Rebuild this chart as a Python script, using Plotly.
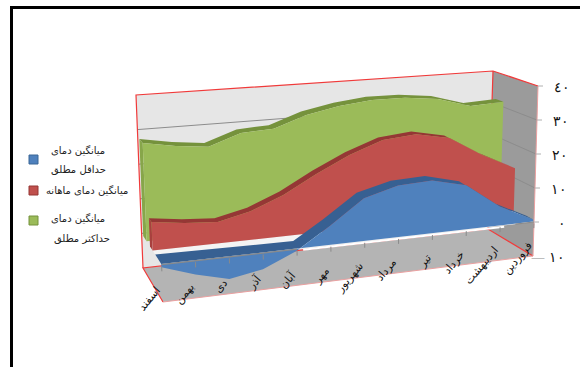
import plotly.graph_objects as go

# Persian months along the category axis, left to right
months = ["اسفند", "بهمن", "دی", "آذر", "آبان", "مهر", "شهریور", "مرداد", "تیر", "خرداد", "اردیبهشت", "فروردین"]

# Temperature series in degrees C, one value per month
abs_min = [-0.9, -3.9, -6.2, -4.6, -0.7, 5.3, 12.0, 14.6, 15.1, 12.7, 5.5, 0.6]
monthly_mean = [7.9, 6.7, 6.0, 8.1, 11.8, 16.9, 21.5, 25.0, 25.9, 23.9, 17.9, 13.0]
abs_max = [27.8, 26.2, 25.2, 28.4, 28.9, 32.2, 34.1, 35.2, 35.1, 34.0, 31.1, 31.6]

value_ticks = [40, 30, 20, 10, 0, -10]
value_labels = ["٤٠", "٣٠", "٢٠", "١٠", "٠", "<span style='color:#bdbdbd'>—</span> ١٠"]

legend_lines = ["میانگین دمای", "حداقل مطلق", "میانگین دمای ماهانه", "میانگین دمای", "حداکثر مطلق"]

V_MIN, V_MAX = -10, 40

# Screen corners of the 3D plot box: (depth, value) keyed, left and right ends
BOX = {
    ("front", "low", 0): (163, 302), ("front", "high", 0): (156, 115),
    ("front", "low", 1): (533, 256), ("front", "high", 1): (538, 86),
    ("back", "low", 0): (143, 268), ("back", "high", 0): (136, 95),
    ("back", "low", 1): (488, 229), ("back", "high", 1): (493, 71),
}


def project(u, d, v):
    """Map category position u, depth d and temperature v onto the page."""
    t = (v - V_MIN) / (V_MAX - V_MIN)
    px, py = 0.0, 0.0
    for dk, dw in (("front", 1 - d), ("back", d)):
        for vk, vw in (("low", 1 - t), ("high", t)):
            for uk, uw in ((0, 1 - u), (1, u)):
                w = dw * vw * uw
                cx, cy = BOX[(dk, vk, uk)]
                px += w * cx
                py += w * cy
    return px, py


fig = go.Figure()


def polygon(points, fill, line=None, width=0.0):
    xs = [p[0] for p in points] + [points[0][0]]
    ys = [p[1] for p in points] + [points[0][1]]
    fig.add_trace(go.Scatter(
        x=xs, y=ys, mode="lines", fill="toself", fillcolor=fill,
        line=dict(color=line or fill, width=width),
        hoverinfo="skip", showlegend=False,
    ))


def stroke(points, color, width=1.0):
    fig.add_trace(go.Scatter(
        x=[p[0] for p in points], y=[p[1] for p in points], mode="lines",
        line=dict(color=color, width=width), hoverinfo="skip", showlegend=False,
    ))


RED = "#f03a3a"
PINK = "#eaa0a0"

# Back wall, side wall and floor
polygon([project(0, 1, V_MIN), project(0, 1, V_MAX), project(1, 1, V_MAX), project(1, 1, V_MIN)], "#e6e6e6")
polygon([project(1, 1, V_MIN), project(1, 1, V_MAX), project(1, 0, V_MAX), project(1, 0, V_MIN)], "#9b9b9b")
polygon([project(0, 1, V_MIN), project(1, 1, V_MIN), project(1, 0, V_MIN), project(0, 0, V_MIN)], "#b4b4b4")

# Gridlines on the walls
for v in value_ticks[1:-1]:
    stroke([project(0, 1, v), project(1, 1, v), project(1, 0, v)], "#8c8c8c", 1)

# Box outline
stroke([project(0, 1, V_MIN), project(0, 1, V_MAX), project(1, 1, V_MAX), project(1, 0, V_MAX)], RED, 1.2)
stroke([project(1, 1, V_MAX), project(1, 1, V_MIN)], RED, 1.2)
stroke([project(0, 0, V_MIN), project(0, 1, V_MIN), project(1, 1, V_MIN), project(1, 0, V_MIN)], RED, 1.2)
stroke([project(0, 0, V_MIN), project(1, 0, V_MIN)], PINK, 1)
stroke([project(1, 0, V_MIN), project(1, 0, V_MAX)], PINK, 1)

# Pale plane at the zero level, seen between the front series
polygon([project(0, 0, 0), project(1, 0, 0), project(1, 0.45, 0), project(0, 0.45, 0)], "#f4f4f4")

n = len(months)
us = [i / (n - 1) for i in range(n)]

# Bright rim under the front series where it sits above zero
stroke([project(0.38, 0, -0.4), project(0.92, 0, -0.4)], "#ffffff", 2)


def with_zero_crossings(values):
    """Category positions and values, with a vertex added wherever the line crosses zero."""
    out = []
    for i, v in enumerate(values):
        out.append((us[i], v))
        if i + 1 < n and v * values[i + 1] < 0:
            s = v / (v - values[i + 1])
            out.append((us[i] + s * (us[i + 1] - us[i]), 0.0))
    return out


def area(values, d_front, d_back_left, d_back_right, face, top, side):
    verts = with_zero_crossings(values)
    if values[0] > 0:
        polygon([project(0, d_front, 0), project(0, d_back_left, 0),
                 project(0, d_back_left, values[0]), project(0, d_front, values[0])], side)
    front_edge = [project(u, d_front, max(v, 0)) for u, v in verts]
    back_edge = [project(u, d_back_left + (d_back_right - d_back_left) * u, max(v, 0)) for u, v in verts]
    polygon(front_edge + back_edge[::-1], top)
    base = [project(u, d_front, 0) for u, _ in verts]
    curve = [project(u, d_front, v) for u, v in verts]
    polygon(base + curve[::-1], face)


# Depth order: furthest series first
area(abs_max, 0.75, 0.92, 0.92, "#9bbb59", "#75923c", "#87a64a")
area(monthly_mean, 0.45, 0.58, 0.58, "#c0504d", "#953735", "#a8403e")
area(abs_min, 0.02, 0.32, 0.17, "#4f81bd", "#376092", "#376092")

# Category axis at zero with its tick marks; the run beside the raised blue area is hidden
stroke([project(0, 0, 0), project(us[4], 0, 0)], "#8a8a8a", 1.2)
stroke([project(0.95, 0, 0), project(1, 0, 0)], "#8a8a8a", 1.2)
for u in us:
    stroke([project(u, 0, -0.4), project(u, 0, -1.8)], "#8a8a8a", 1)

annotations = []
for u, name in zip(us, months):
    ax, ay = project(u, 0, -4.5)
    annotations.append(dict(
        x=ax + 4, y=ay, xref="x", yref="y", text=name, showarrow=False, textangle=-50,
        xanchor="right", yanchor="top", font=dict(family="DejaVu Sans", size=11, color="#111111"),
    ))

# Value axis labels beside the side wall
for v, label in zip(value_ticks, value_labels):
    tx, ty = project(1, 0, v)
    if v != V_MIN:
        stroke([(tx, ty), (tx + 5, ty)], "#b0b0b0", 1)
    annotations.append(dict(
        x=tx + 34, y=ty + 1, xref="x", yref="y", text=label, showarrow=False,
        xanchor="right", yanchor="middle", font=dict(family="DejaVu Serif", size=14, color="#111111"),
    ))

# Legend swatches and wrapped captions
swatches = [(155, "#4f81bd", "#3a6796"), (186, "#c0504d", "#953735"), (216, "#9bbb59", "#75923c")]
shapes = [
    dict(type="rect", xref="x", yref="y", x0=10, x1=580, y0=6, y1=9, fillcolor="#000000", line_width=0),
    dict(type="rect", xref="x", yref="y", x0=10, x1=13, y0=6, y1=367, fillcolor="#000000", line_width=0),
]
for top_y, color, edge in swatches:
    shapes.append(dict(type="rect", xref="x", yref="y", x0=29, x1=38, y0=top_y, y1=top_y + 9,
                       fillcolor=color, line=dict(color=edge, width=1)))
for text, lx, ly in zip(legend_lines, [78, 78, 87, 78, 82], [150, 169, 190, 218, 238]):
    annotations.append(dict(
        x=lx, y=ly, xref="x", yref="y", text=text, showarrow=False,
        xanchor="center", yanchor="middle", font=dict(family="DejaVu Sans", size=10, color="#222222"),
    ))

fig.update_layout(
    width=580, height=367, margin=dict(l=0, r=0, t=0, b=0),
    paper_bgcolor="white", plot_bgcolor="white", showlegend=False,
    xaxis=dict(range=[0, 580], visible=False, fixedrange=True),
    yaxis=dict(range=[367, 0], visible=False, fixedrange=True),
    shapes=shapes, annotations=annotations,
)

fig.write_html("out.html", config=dict(displayModeBar=False))
